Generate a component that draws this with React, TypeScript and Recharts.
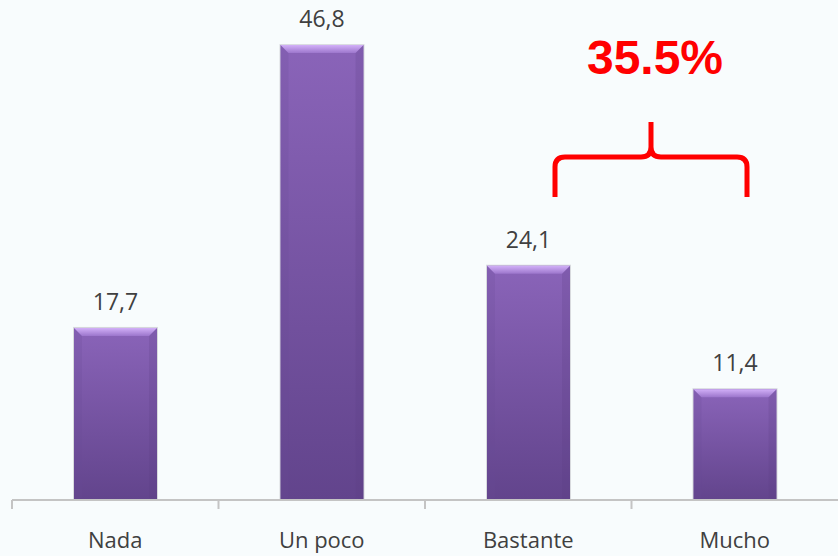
import React from 'react';
import { BarChart, Bar, XAxis, YAxis, LabelList, Customized } from 'recharts';

const categories = ['Nada', 'Un poco', 'Bastante', 'Mucho'];
const values = [17.7, 46.8, 24.1, 11.4];
const valueLabels = ['17,7', '46,8', '24,1', '11,4'];
const annotationText = '35.5%';

const data = categories.map((c, i) => ({ name: c, value: values[i], label: valueLabels[i] }));

const W = 838;
const H = 556;
const M = { top: 14, right: 0, bottom: 26, left: 12 };
const BAND = (W - M.left - M.right) / categories.length;

const BarShape = (props: any) => {
  const { x, y, width, height, index } = props;
  const b = Math.min(8, height / 2);
  const id = `g${index}`;
  return (
    <g>
      <defs>
        <linearGradient id={id} x1="0" y1="0" x2="0" y2="1">
          <stop offset="0%" stopColor="#8a64b9" />
          <stop offset="100%" stopColor="#62448c" />
        </linearGradient>
        <linearGradient id={`${id}t`} x1="0" y1="0" x2="0" y2="1">
          <stop offset="0%" stopColor="#d2b0f8" />
          <stop offset="100%" stopColor="#9c76cc" />
        </linearGradient>
      </defs>
      <rect x={x - 1} y={y - 1} width={width + 2} height={height + 1} fill="#b8b8c0" opacity={0.5} />
      <rect x={x} y={y} width={width} height={height} fill={`url(#${id})`} />
      <polygon
        points={`${x},${y} ${x + b},${y + b} ${x + b},${y + height - 2} ${x},${y + height}`}
        fill="#6a4a96"
        opacity={0.2}
      />
      <polygon
        points={`${x + width},${y} ${x + width - b},${y + b} ${x + width - b},${y + height - 2} ${x + width},${y + height}`}
        fill="#5a3d82"
        opacity={0.2}
      />
      <polygon
        points={`${x},${y} ${x + width},${y} ${x + width - b},${y + b} ${x + b},${y + b}`}
        fill={`url(#${id}t)`}
      />
    </g>
  );
};

const CategoryTick = (props: any) => {
  const { x, y, payload } = props;
  const lx = x - BAND / 2;
  return (
    <g>
      <line x1={lx} y1={y} x2={lx} y2={y + 9} stroke="#c4c4c4" strokeWidth={2} />
      <text
        x={x}
        y={y + 48}
        textAnchor="middle"
        fontFamily="'Open Sans', sans-serif"
        fontSize={22}
        fill="#404040"
      >
        {payload.value}
      </text>
    </g>
  );
};

const Annotation = () => (
  <g>
    <text
      x={655}
      y={74}
      textAnchor="middle"
      fontFamily="'Liberation Sans', Arial, sans-serif"
      fontWeight="bold"
      fontSize={48}
      fill="#ff0000"
    >
      {annotationText}
    </text>
    <path
      d="M555,197 L555,167 Q555,157 565,157 L641,157 Q651,157 651,147 L651,122 M651,147 Q651,157 661,157 L737,157 Q747,157 747,167 L747,197"
      fill="none"
      stroke="#ff0000"
      strokeWidth={5}
      strokeLinejoin="round"
    />
  </g>
);

export default function App() {
  return (
    <div style={{ position: 'absolute', left: 0, top: 0, width: W, height: H, background: '#f8fcfd' }}>
      <BarChart width={W} height={H} data={data} margin={M} barSize={83}>
        <XAxis
          dataKey="name"
          height={30}
          axisLine={{ stroke: '#c4c4c4', strokeWidth: 2 }}
          tickLine={false}
          tickSize={0}
          tickMargin={0}
          tick={<CategoryTick />}
          interval={0}
        />
        <YAxis hide domain={[0, 50]} />
        <Bar dataKey="value" shape={<BarShape />} isAnimationActive={false}>
          <LabelList
            dataKey="label"
            position="top"
            offset={18}
            fontFamily="'Open Sans', sans-serif"
            fontSize={23}
            fill="#404040"
          />
        </Bar>
        <Customized component={<Annotation />} />
      </BarChart>
    </div>
  );
}
